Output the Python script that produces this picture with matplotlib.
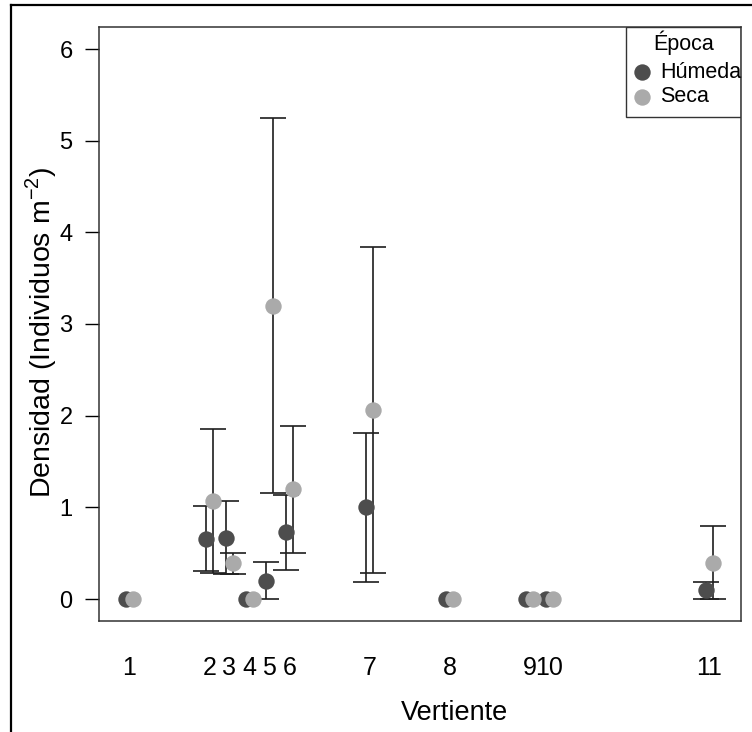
import numpy as np
import matplotlib.pyplot as plt
from matplotlib.lines import Line2D
from matplotlib.patches import Rectangle

plt.rcParams['font.family'] = ['Liberation Sans', 'DejaVu Sans']

# datos: densidad media y error estandar por vertiente y epoca
vertiente = ['1', '2', '3', '4', '5', '6', '7', '8', '9', '10', '11']
posicion = [1, 5, 6, 7, 8, 9, 13, 17, 21, 22, 30]
humeda = [0, 0.66, 0.67, 0, 0.2, 0.73, 1.0, 0, 0, 0, 0.095]
humeda_se = [0, 0.35, 0.40, 0, 0.2, 0.41, 0.81, 0, 0, 0, 0.095]
seca = [0, 1.065, 0.39, 0, 3.2, 1.195, 2.065, 0, 0, 0, 0.397]
seca_se = [0, 0.785, 0.115, 0, 2.045, 0.695, 1.78, 0, 0, 0, 0.397]
epocas = ['Húmeda', 'Seca']

col_h = '#4d4d4d'
col_s = '#aaaaaa'
dodge = 1 / 6
ms = 11.8

fig = plt.figure(figsize=(7.52, 7.32), dpi=100)
ax = fig.add_axes([99 / 752, 111 / 732, 642 / 752, 594 / 732])

pos = np.array(posicion, dtype=float)
for off, mu, se in [(-dodge, humeda, humeda_se), (dodge, seca, seca_se)]:
    mu = np.array(mu)
    se = np.array(se)
    m = se > 0
    ax.errorbar(pos[m] + off, mu[m], yerr=se[m], fmt='none', ecolor='#1e1e1e',
                elinewidth=1.2, capsize=9.6, capthick=1.2, zorder=2)

ax.plot(pos - dodge, humeda, 'o', ms=ms, color=col_h, mec='none', zorder=3)
ax.plot(pos + dodge, seca, 'o', ms=ms, color=col_s, mec='none', zorder=3)

ax.set_xlim(-0.52, 31.58)
ax.set_ylim(-0.24, 6.24)
ax.set_yticks(range(7))
ax.set_xticks(pos)
ax.set_xticklabels(vertiente)
ax.tick_params(axis='y', length=10, width=1, pad=9, labelsize=17)
ax.tick_params(axis='x', length=0, pad=25, labelsize=18)
for s in ax.spines.values():
    s.set_linewidth(1.1)
    s.set_color('#333333')

ax.set_ylabel('Densidad (Individuos m$^{\\mathregular{-2}}$)', fontsize=20.5)
ax.yaxis.set_label_coords(-0.062, 0.4865)
fig.text(455 / 752, 6 / 732, 'Vertiente', fontsize=19.5, ha='center', va='bottom')

# leyenda dibujada a mano (coordenadas del eje)
ax.add_patch(Rectangle((0.8209, 0.8485), 0.1791, 0.1515, transform=ax.transAxes,
                       fill=False, edgecolor='#333333', lw=1.0, zorder=4))
ax.text(0.9112, 0.9731, 'Época', transform=ax.transAxes, fontsize=15.5,
        ha='center', va='center')
for yy, lab, col in [(0.9242, epocas[0], col_h), (0.8822, epocas[1], col_s)]:
    ax.plot([0.8453], [yy], 'o', ms=ms, color=col, mec='none',
            transform=ax.transAxes, clip_on=False)
    ax.text(0.8738, yy, lab, transform=ax.transAxes, fontsize=15.5,
            ha='left', va='center')

# marco exterior de la figura
fig.add_artist(Line2D([11 / 752, 11 / 752], [0, 727 / 732], color='black', lw=1.6))
fig.add_artist(Line2D([11 / 752, 1], [727 / 732, 727 / 732], color='black', lw=1.6))

fig.savefig('out.png', dpi=100)
